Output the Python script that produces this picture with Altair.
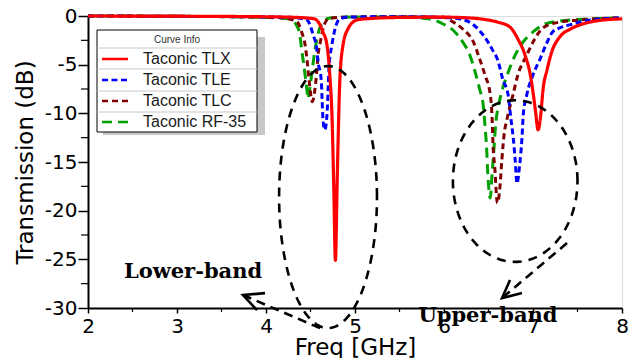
import altair as alt
import pandas as pd
import numpy as np

# ---------------- data ----------------
SERIES = ["Taconic TLX", "Taconic TLE", "Taconic TLC", "Taconic RF-35"]

TLX_F = [2.0, 3.0, 4.0, 4.3, 4.45, 4.55, 4.6, 4.64, 4.685, 4.72, 4.74, 4.76, 4.78, 4.80, 4.81, 4.83,
         4.865, 4.92, 5.02, 5.11, 5.5, 6.0, 6.29, 6.46, 6.6, 6.74, 6.83, 6.91, 6.97, 7.0, 7.03,
         7.056, 7.09, 7.11, 7.16, 7.21, 7.30, 7.42, 7.56, 7.79, 8.0]
TLX_DB = [0, -0.02, -0.08, -0.13, -0.2, -0.31, -0.8, -1.64, -2.98, -6.5, -9.9, -16.9, -25.1, -16.9,
          -12.9, -6.5, -3.0, -1.34, -0.41, -0.3, -0.15, -0.12, -0.2, -0.36, -0.62, -1.13, -2.36,
          -4.0, -6.06, -7.8, -9.9, -11.7, -9.9, -7.8, -5.45, -3.7, -2.16, -1.34, -0.82, -0.41, -0.3]

TLE_F = [2.0, 3.3, 4.0, 4.3, 4.46, 4.53, 4.57, 4.585, 4.62, 4.63, 4.64, 4.66, 4.685, 4.70, 4.71,
         4.74, 4.775, 4.83, 4.94, 5.5, 5.9, 6.18, 6.33, 6.44, 6.54, 6.61, 6.66, 6.72, 6.75, 6.78,
         6.80, 6.82, 6.85, 6.875, 6.89, 6.93, 7.0, 7.08, 7.16, 7.22, 7.30, 7.45, 7.64, 8.0]
TLE_DB = [0, -0.05, -0.1, -0.15, -0.41, -1.95, -3.4, -4.7, -6.5, -8.5, -10.6, -11.7, -10.2, -7.1,
          -5.0, -3.0, -1.34, -0.3, -0.1, -0.08, -0.12, -0.3, -0.9, -1.95, -3.4, -4.7, -6.5, -8.1,
          -10.4, -12.7, -14.8, -17.2, -15.3, -12.7, -10.2, -8.1, -6.06, -4.4, -2.67, -1.64, -1.23,
          -0.82, -0.41, -0.2]

TLC_F = [2.0, 3.3, 4.0, 4.2, 4.35, 4.40, 4.44, 4.46, 4.49, 4.52, 4.55, 4.57, 4.585, 4.61, 4.64,
         4.70, 4.85, 5.5, 5.98, 6.10, 6.21, 6.33, 6.40, 6.46, 6.52, 6.54, 6.55, 6.57, 6.60, 6.63,
         6.65, 6.675, 6.71, 6.775, 6.83, 6.93, 7.02, 7.11, 7.30, 7.53, 7.75, 8.0]
TLC_DB = [0, -0.05, -0.12, -0.2, -0.6, -1.64, -3.0, -4.4, -7.1, -8.8, -7.5, -5.75, -4.0, -2.7,
          -1.34, -0.3, -0.12, -0.08, -0.1, -0.6, -1.34, -2.67, -4.4, -6.06, -8.1, -10.4, -13.1,
          -15.5, -19.2, -17.4, -14.8, -12.2, -10.5, -8.1, -6.06, -4.0, -2.36, -1.23, -0.62, -0.41,
          -0.26, -0.2]

RF35_F = [2.0, 3.3, 4.0, 4.27, 4.34, 4.38, 4.40, 4.42, 4.44, 4.46, 4.47, 4.49, 4.52, 4.55, 4.585,
          4.64, 4.72, 5.0, 5.5, 5.84, 5.99, 6.10, 6.21, 6.29, 6.35, 6.40, 6.44, 6.46, 6.48, 6.49,
          6.52, 6.54, 6.56, 6.58, 6.62, 6.66, 6.71, 6.78, 6.89, 7.0, 7.11, 7.30, 7.64, 8.0]
RF35_DB = [0, -0.05, -0.15, -0.3, -0.9, -1.95, -3.4, -4.7, -6.1, -7.6, -8.5, -7.6, -5.5, -3.5,
           -1.85, -0.6, -0.2, -0.1, -0.1, -0.3, -0.82, -1.44, -2.67, -4.0, -5.75, -7.5, -9.1,
           -11.2, -13.8, -15.8, -18.7, -16.3, -13.8, -11.2, -8.9, -7.4, -6.06, -4.4, -2.67, -1.64,
           -0.92, -0.51, -0.3, -0.2]

X_TICKS = [2, 3, 4, 5, 6, 7, 8]
X_MINOR = [2.5, 3.5, 4.5, 5.5, 6.5, 7.5]
Y_TICKS = [-30, -25, -20, -15, -10, -5, 0]
Y_MINOR = [-27.5, -22.5, -17.5, -12.5, -7.5, -2.5]

# annotation shapes (data units)
ELLIPSES = [  # center f, center dB, half-width GHz, half-height dB
    (4.697, -18.6, 0.55, 13.46),
    (6.80, -16.96, 0.70, 8.3),
]
ARROWS = [  # tail (f, dB), tip (f, dB), arm1, arm2
    ((4.607, -32.07), (3.742, -28.67), (3.989, -28.47), (3.899, -30.22)),
    ((7.382, -23.33), (6.652, -28.98), (6.876, -28.47), (6.742, -27.13)),
]
NOTES = [("Lower-band", 3.18, -26.93), ("Upper-band", 6.494, -31.45)]

# ---------------- styles ----------------
STYLE = {
    "Taconic TLX": dict(color="#ff0000", dash=[1, 0], width=3.2),
    "Taconic TLE": dict(color="#0000ff", dash=[6, 3.5], width=3),
    "Taconic TLC": dict(color="#800000", dash=[6, 4], width=3),
    "Taconic RF-35": dict(color="#00a000", dash=[10, 6], width=3),
}
DATA = {
    "Taconic TLX": (TLX_F, TLX_DB),
    "Taconic TLE": (TLE_F, TLE_DB),
    "Taconic TLC": (TLC_F, TLC_DB),
    "Taconic RF-35": (RF35_F, RF35_DB),
}

W, H = 534, 292
xscale = alt.Scale(domain=[2, 8], nice=False, zero=False)
yscale = alt.Scale(domain=[-30, 0], nice=False, zero=False)

xaxis = alt.Axis(values=X_TICKS, title="Freq [GHz]", grid=False, tickSize=5, labelPadding=3,
                 labelFontSize=20, titleFontSize=23, titlePadding=0, labelFlush=False,
                 labelFont="DejaVu Sans", titleFont="DejaVu Sans", titleFontWeight="normal",
                 domainColor="black", domainWidth=2, tickColor="black", tickWidth=1.5,
                 labelColor="black", titleColor="black", labelExpr="'' + datum.value")
yaxis = alt.Axis(values=Y_TICKS, title="Transmission (dB)", grid=False, tickSize=10,
                 labelPadding=1, labelFontSize=20, titleFontSize=23, titlePadding=7,
                 labelFont="DejaVu Sans", titleFont="DejaVu Sans", titleFontWeight="normal",
                 domainColor="black", domainWidth=2, tickColor="black", tickWidth=1.5,
                 labelColor="black", titleColor="black", labelFlush=False,
                 labelExpr="'' + datum.value")


def X(field):
    return alt.X(field, scale=xscale, axis=xaxis)


def Y(field):
    return alt.Y(field, scale=yscale, axis=yaxis)


layers = []
for name in ["Taconic RF-35", "Taconic TLC", "Taconic TLE", "Taconic TLX"]:
    f, db = DATA[name]
    st = STYLE[name]
    df = pd.DataFrame({"f": f, "db": db})
    layers.append(
        alt.Chart(df).mark_line(color=st["color"], strokeDash=st["dash"], strokeWidth=st["width"],
                                interpolate="monotone", clip=False).encode(
            x=X("f:Q"), y=Y("db:Q"))
    )

# minor ticks
layers.append(alt.Chart(pd.DataFrame({"f": X_MINOR})).mark_rule(color="black", strokeWidth=1.2).encode(
    x=X("f:Q"), y=alt.value(H), y2=alt.value(H + 4)))
layers.append(alt.Chart(pd.DataFrame({"db": Y_MINOR})).mark_rule(color="black", strokeWidth=1.2).encode(
    y=Y("db:Q"), x=alt.value(-7), x2=alt.value(0)))

# ellipses
for (cx, cy, a, b) in ELLIPSES:
    t = np.linspace(0, 2 * np.pi, 160)
    edf = pd.DataFrame({"f": cx + a * np.cos(t), "db": cy + b * np.sin(t), "i": np.arange(len(t))})
    layers.append(alt.Chart(edf).mark_line(color="black", strokeDash=[9, 7], strokeWidth=2.6,
                                           clip=False).encode(
        x=X("f:Q"), y=Y("db:Q"), order="i:Q"))

# arrows
for (tail, tip, arm1, arm2) in ARROWS:
    sdf = pd.DataFrame({"f": [tail[0], tip[0]], "db": [tail[1], tip[1]], "i": [0, 1]})
    layers.append(alt.Chart(sdf).mark_line(color="black", strokeDash=[9, 6], strokeWidth=2.6,
                                           clip=False).encode(
        x=X("f:Q"), y=Y("db:Q"), order="i:Q"))
    hdf = pd.DataFrame({"f": [arm1[0], tip[0], arm2[0]], "db": [arm1[1], tip[1], arm2[1]],
                        "i": [0, 1, 2]})
    layers.append(alt.Chart(hdf).mark_line(color="black", strokeWidth=2.6, clip=False).encode(
        x=X("f:Q"), y=Y("db:Q"), order="i:Q"))

# notes
ndf = pd.DataFrame({"t": [n[0] for n in NOTES], "f": [n[1] for n in NOTES], "db": [n[2] for n in NOTES]})
layers.append(alt.Chart(ndf).mark_text(font="DejaVu Serif", fontWeight="bold", fontSize=21,
                                       align="center", baseline="alphabetic", color="black").encode(
    x=X("f:Q"), y=Y("db:Q"), text="t:N"))

# custom legend box ("Curve Info")
one = pd.DataFrame({"a": [0]})
layers.append(alt.Chart(one).mark_rect(fill="#c8c8c8").encode(
    x=alt.value(15), x2=alt.value(177), y=alt.value(21), y2=alt.value(119)))
layers.append(alt.Chart(one).mark_rect(fill="white", stroke="black", strokeWidth=1).encode(
    x=alt.value(9), x2=alt.value(169), y=alt.value(14), y2=alt.value(116)))
for yy in [32, 53, 75, 96]:
    layers.append(alt.Chart(one).mark_rule(color="#c8c8c8", strokeWidth=1).encode(
        x=alt.value(9), x2=alt.value(169), y=alt.value(yy)))
layers.append(alt.Chart(one).mark_text(text="Curve Info", font="Liberation Sans", fontSize=10,
                                       color="#333333", align="center", baseline="middle").encode(
    x=alt.value(89), y=alt.value(24)))
for k, name in enumerate(SERIES):
    st = STYLE[name]
    yy = 43 + 21 * k
    layers.append(alt.Chart(one).mark_rule(color=st["color"], strokeDash=st["dash"],
                                           strokeWidth=2.5).encode(
        x=alt.value(14), x2=alt.value(40), y=alt.value(yy)))
    layers.append(alt.Chart(one).mark_text(text=name, font="Liberation Sans", fontSize=16,
                                           color="#1a1a1a", align="left", baseline="middle").encode(
        x=alt.value(55), y=alt.value(yy)))

chart = alt.layer(*layers).properties(
    width=W, height=H,
    autosize=alt.AutoSizeParams(type="none"),
    padding={"left": 80, "top": 8, "right": 7, "bottom": 50},
).configure_view(stroke="black", strokeWidth=1.5).configure(background="white")

chart.save("out.html", embed_options={"renderer": "svg", "actions": False})
